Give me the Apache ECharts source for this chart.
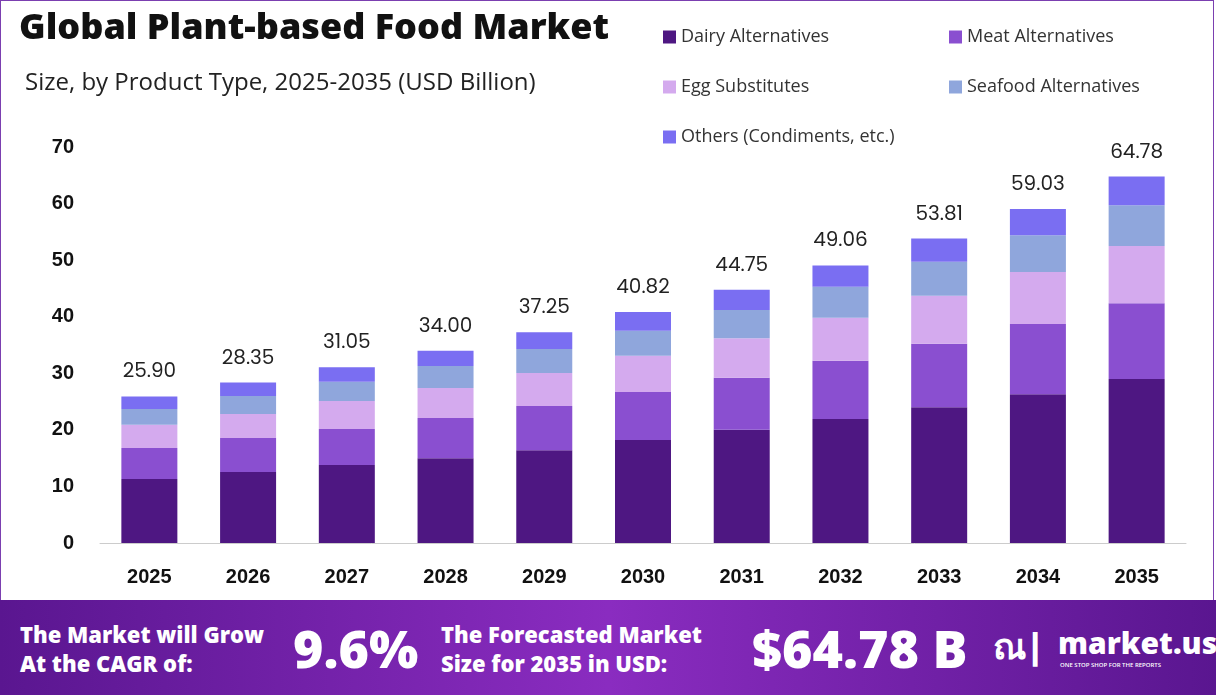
<!DOCTYPE html><html><head><meta charset="utf-8"><script src="https://cdn.jsdelivr.net/npm/echarts@6/dist/echarts.min.js"></script>
<style>body{margin:0;width:1216px;height:695px;overflow:hidden;font-family:Poppins,'Open Sans',sans-serif;background:#fff}
#wrap{position:absolute;left:0;top:0;width:1214px;height:600px;border:1px solid #7b3fb0;border-bottom:none;box-sizing:border-box}
#c{position:absolute;left:0;top:0;width:1216px;height:600px}
#ban{position:absolute;left:0;top:600px;width:1216px;height:95px;background:linear-gradient(90deg,#5a1690,#8a2cc0 50%,#5a1690);color:#fff;font-family:'Open Sans',sans-serif;font-weight:800}
.t{position:absolute}</style></head><body>
<div id="wrap"></div><div id="c"></div>
<div id="ban">
<div class="t" style="left:20px;top:20px;font-size:22px;line-height:29px">The Market will Grow<br>At the CAGR of:</div>
<div class="t" style="left:293px;top:12px;font-size:52px">9.6%</div>
<div class="t" style="left:441px;top:20px;font-size:22px;line-height:29px">The Forecasted Market<br>Size for 2035 in USD:</div>
<div class="t" style="left:752px;top:12px;font-size:52px">$64.78 B</div>
<div class="t" style="left:993px;top:18px;font-size:36px">ณ|</div>
<div class="t" style="left:1058px;top:22px;font-size:30px">market.us</div>
<div class="t" style="left:1060px;top:61px;font-size:6px;font-weight:600">ONE STOP SHOP FOR THE REPORTS</div>
</div>
<script>
const years=['2025','2026','2027','2028','2029','2030','2031','2032','2033','2034','2035'];
const totals=[25.90,28.35,31.05,34.00,37.25,40.82,44.75,49.06,53.81,59.03,64.78];
const dairy=[11.3,12.55,13.8,15.0,16.4,18.2,20.0,21.9,24.0,26.3,29.0];
const meat=[5.5,6.0,6.35,7.1,7.8,8.5,9.2,10.3,11.2,12.4,13.4];
const egg=[4.1,4.25,4.95,5.3,5.85,6.4,7.0,7.6,8.5,9.2,10.1];
const seafood=[2.8,3.2,3.4,3.9,4.25,4.4,5.0,5.5,6.0,6.5,7.2];
const others=totals.map((t,i)=>+(t-dairy[i]-meat[i]-egg[i]-seafood[i]).toFixed(2));
const names=['Dairy Alternatives','Meat Alternatives','Egg Substitutes','Seafood Alternatives','Others (Condiments, etc.)'];
const colors=['#4e1782','#8a4fd0','#d4aaee','#8fa6dc','#7a6ef2'];
const data=[dairy,meat,egg,seafood,others];
const ch=echarts.init(document.getElementById('c'));
const series=data.map((d,i)=>({name:names[i],type:'bar',stack:'a',data:d,barWidth:56,itemStyle:{color:colors[i]}}));
series[4].label={show:true,position:'top',distance:14,fontSize:20,color:'#222',fontFamily:'Poppins,Open Sans',formatter:p=>totals[p.dataIndex].toFixed(2)};
const legPos=[[658,23],[944,23],[658,73],[944,73],[658,123]];
ch.setOption({animation:false,
title:[{text:'Global Plant-based Food Market',left:14,top:6,textStyle:{fontSize:36,fontWeight:800,color:'#111',fontFamily:'Open Sans'}},
{text:'Size, by Product Type, 2025-2035 (USD Billion)',left:20,top:66,textStyle:{fontSize:24,fontWeight:400,color:'#222',fontFamily:'Open Sans'}}],
legend:names.map((n,i)=>({left:legPos[i][0],top:legPos[i][1],itemWidth:13,itemHeight:13,itemGap:8,icon:'rect',data:[n],textStyle:{fontSize:18,color:'#333',fontFamily:'Open Sans'}})),
grid:{left:100,right:30,top:147,bottom:57},
xAxis:{type:'category',data:years,axisTick:{show:false},axisLine:{lineStyle:{color:'#ccc'}},axisLabel:{fontSize:20,fontWeight:'bold',color:'#111',margin:24}},
yAxis:{type:'value',min:0,max:70,interval:10,splitLine:{show:false},axisLabel:{fontSize:20,fontWeight:'bold',color:'#111',margin:26}},
series});
</script></body></html>
